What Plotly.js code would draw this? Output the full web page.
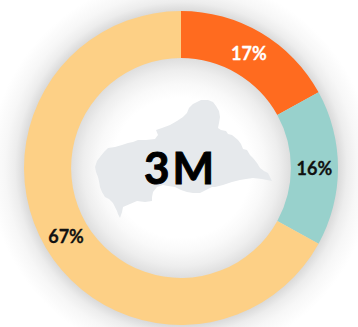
<!DOCTYPE html>
<html><head><meta charset="utf-8">
<script src="https://cdn.plot.ly/plotly-3.0.1.min.js"></script>
<style>
html,body{margin:0;padding:0;background:#fff;overflow:hidden}
#c{width:358px;height:327px;position:relative;
background:radial-gradient(circle at 181px 168px,#fff 0,#fff 70px,#f9f9f9 84px,#eeeeee 98px,#dedede 110px,#d6d6d6 155px,#dcdcdc 158px,#ededed 166px,#f7f7f7 176px,#fff 192px)}
.pielayer .slice text{stroke:#111;stroke-width:.3px}
.pielayer .slice:first-of-type text{stroke:#fff}
.annotation text{stroke:#000;stroke-width:1px;letter-spacing:3px}
</style></head><body><div id="c"></div>
<script>
const categories=['A','B','C'];
const values=[17,16,67];
const labels=['17%','16%','67%'];
const colors=['#ff6b1f','#98d1cc','#fdd086'];
const labelColors=['#ffffff','#111111','#111111'];
const centerText='3M';
const W=358,H=327,cx=181,cy=168,R=157;
// country silhouette outline, in pixels of the picture
const outline=[[193,104],[197,102],[201,100],[208,100],[213,102],[216,106],[219,111],[220,117],[219,123],[218,128],[221,130],[226,131],[228,134],[232,135],[238,140],[241,144],[243,149],[247,150],[250,155],[253,158],[257,163],[260,168],[264,171],[268,173],[270,177],[272,181],[262,179],[253,178],[246,179],[240,180],[232,182],[223,185],[215,187],[212,187],[206,190],[200,193],[193,193],[187,192],[181,190],[175,187],[168,186],[163,185],[157,187],[153,192],[152,197],[152,201],[145,202],[137,201],[130,204],[123,207],[122,212],[120,218],[118,214],[117,211],[113,203],[109,199],[105,197],[102,192],[100,187],[99,181],[98,177],[96,172],[95,167],[97,161],[100,157],[104,152],[108,148],[115,147],[122,145],[128,143],[133,142],[138,140],[146,140],[155,139],[158,135],[156,130],[162,128],[170,125],[177,121],[183,117],[187,113],[189,108]];
const mapPath='M'+outline.map(p=>(p[0]/W).toFixed(4)+','+(1-p[1]/H).toFixed(4)).join('L')+'Z';
Plotly.newPlot('c',[{
 type:'pie',labels:categories,values:values,text:labels,textinfo:'text',
 sort:false,direction:'clockwise',rotation:0,hole:0.7,
 marker:{colors:colors,line:{width:0}},
 textposition:'inside',insidetextorientation:'horizontal',
 textfont:{family:'Lato, sans-serif',size:18,weight:700,color:labelColors},
 domain:{x:[(cx-R)/W,(cx+R)/W],y:[1-(cy+R)/H,1-(cy-R)/H]},
 showlegend:false,hoverinfo:'skip'
}],{
 width:W,height:H,margin:{l:0,r:0,t:0,b:0},paper_bgcolor:'rgba(0,0,0,0)',plot_bgcolor:'rgba(0,0,0,0)',
 showlegend:false,
 shapes:[{type:'path',xref:'paper',yref:'paper',path:mapPath,fillcolor:'#e6e9ec',line:{width:0},layer:'below'}],
 annotations:[{text:centerText,xref:'paper',yref:'paper',x:180/W,y:1-167/H,showarrow:false,xanchor:'center',yanchor:'middle',
  font:{family:'Lato, sans-serif',size:44,weight:700,color:'#000'}}]
},{staticPlot:true,displayModeBar:false});
</script></body></html>
